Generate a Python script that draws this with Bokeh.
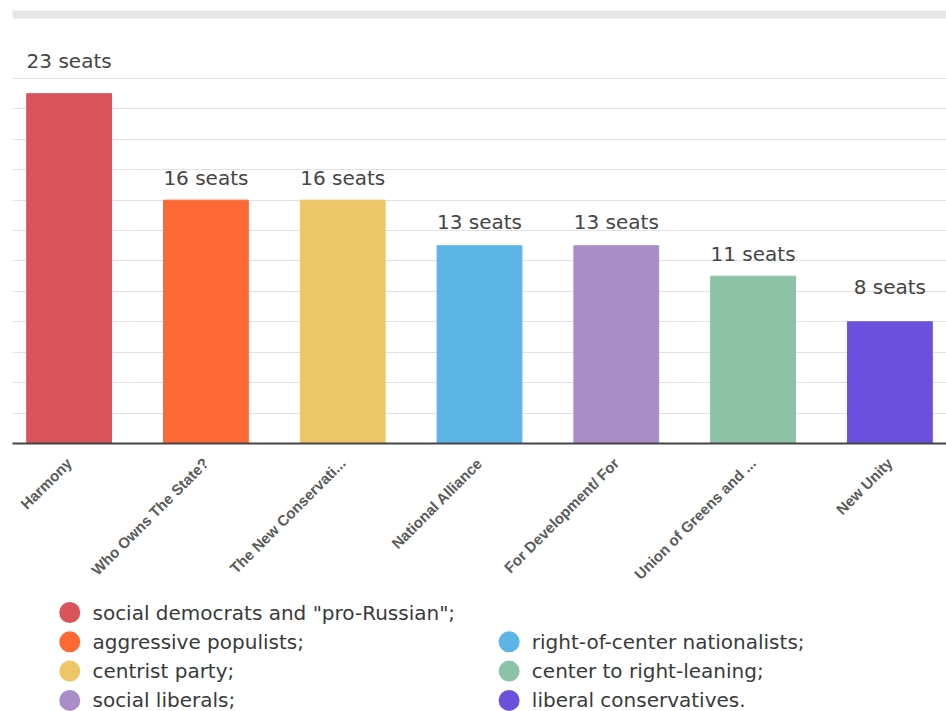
import math
from bokeh.plotting import figure
from bokeh.models import ColumnDataSource, Range1d, FixedTicker, BoxAnnotation
from bokeh.layouts import column
from bokeh.core.properties import value
from bokeh.embed import file_html
from bokeh.resources import INLINE

# ---- data ----
parties = ["Harmony", "Who Owns The State?", "The New Conservati...", "National Alliance",
           "For Development/ For", "Union of Greens and ...", "New Unity"]
seats = [23, 16, 16, 13, 13, 11, 8]
descriptions = ['social democrats and "pro-Russian";', "aggressive populists;", "centrist party;",
                "right-of-center nationalists;", "social liberals;", "center to right-leaning;",
                "liberal conservatives."]
colors = ["#d9535a", "#fd6934", "#edc765", "#5cb5e6", "#a98dc8", "#8cc3a6", "#6b4fdd"]
grid_ticks = list(range(0, 25, 2))

# label gaps above bars (style, px)
label_gap = [33, 22, 22, 24, 24, 22, 35]

xs = list(range(len(parties)))
src = ColumnDataSource(dict(
    x=xs, seats=seats, color=colors,
    label=[f"{s} seats" for s in seats],
    dy=[-g for g in label_gap],
))

W = 946
H_MAIN = 595
H_LEG = 711 - H_MAIN

px_per_seat = 15.21
frame_bottom = 443
ymax = frame_bottom / px_per_seat

p = figure(width=W, height=H_MAIN, output_backend="svg", toolbar_location=None,
           x_range=Range1d(-0.414, 6.414), y_range=Range1d(0, ymax),
           min_border_left=12, min_border_right=0, min_border_top=0,
           min_border_bottom=H_MAIN - frame_bottom)
p.outline_line_color = None
p.background_fill_color = "white"
p.border_fill_color = "white"

p.vbar(x="x", top="seats", width=0.62, bottom=0, color="color", source=src)

p.text(x="x", y="seats", text="label", source=src, y_offset="dy",
       text_align="center", text_baseline="middle",
       text_font=value("DejaVu Sans"), text_font_size="20px", text_color="#454545")

# axes / grid
p.yaxis.visible = False
p.ygrid.ticker = FixedTicker(ticks=grid_ticks)
p.ygrid.grid_line_color = "#e2e2e2"
p.ygrid.grid_line_width = 1
p.xgrid.visible = False

xa = p.xaxis[0]
xa.ticker = FixedTicker(ticks=xs)
xa.major_label_overrides = {i: name for i, name in enumerate(parties)}
xa.major_label_orientation = math.pi / 4
xa.major_label_text_font = "Liberation Sans"
xa.major_label_text_font_style = "bold"
xa.major_label_text_font_size = "15px"
xa.major_label_text_color = "#5a5a5a"
xa.major_label_standoff = 11
xa.major_tick_line_color = None
xa.minor_tick_line_color = None
xa.axis_line_color = "#444444"
xa.axis_line_width = 2

# top grey strip
p.add_layout(BoxAnnotation(left=6, right=W, top=10, bottom=18,
                           left_units="canvas", right_units="canvas",
                           top_units="canvas", bottom_units="canvas",
                           fill_color="#e6e6e6", fill_alpha=1.0, line_color=None))

# ---- legend (separate panel) ----
legend_col = [0, 0, 0, 1, 0, 1, 1]
legend_row = [0, 1, 2, 1, 3, 2, 3]
col_x = [58, 503]
row_y0, row_dy = 17, 29.3
text_dx = 23
lsrc = ColumnDataSource(dict(
    cx=[col_x[c] for c in legend_col],
    tx=[col_x[c] + text_dx for c in legend_col],
    y=[row_y0 + r * row_dy for r in legend_row],
    color=colors, text=descriptions,
))
lg = figure(width=W, height=H_LEG, output_backend="svg", toolbar_location=None,
            x_range=Range1d(0, W), y_range=Range1d(H_LEG, 0),
            x_axis_location=None, y_axis_location=None,
            min_border=0, min_border_left=0, min_border_right=0,
            min_border_top=0, min_border_bottom=0)
lg.outline_line_color = None
lg.grid.visible = False
lg.scatter(x="cx", y="y", size=21, color="color", source=lsrc, line_color=None)
lg.text(x="tx", y="y", text="text", source=lsrc, text_baseline="middle",
        text_font=value("DejaVu Sans"), text_font_size="20px", text_color="#3a3a3a")

layout = column(p, lg, spacing=0)
open("out.html", "w").write(file_html(layout, INLINE))
